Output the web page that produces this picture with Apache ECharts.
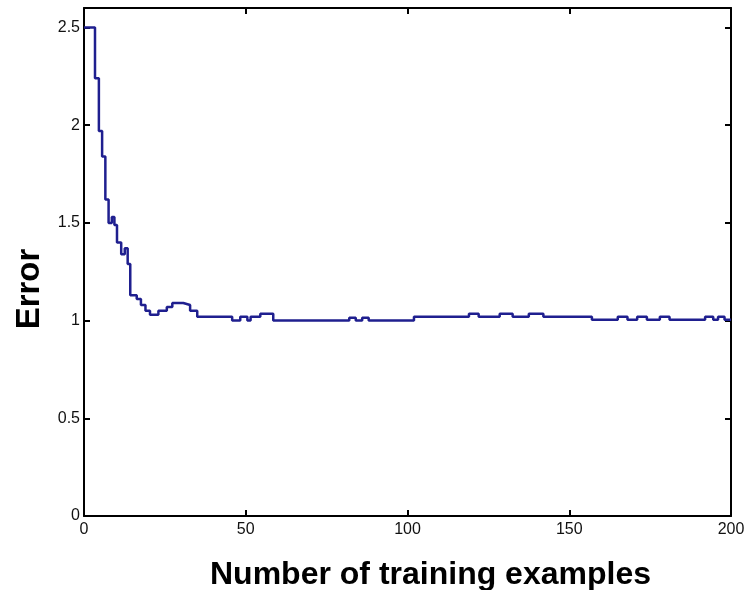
<!DOCTYPE html>
<html>
<head>
<meta charset="utf-8">
<script src="https://cdn.jsdelivr.net/npm/echarts@6/dist/echarts.min.js"></script>
<style>
html,body{margin:0;padding:0;background:#fff;}
#chart{width:753px;height:590px;}
</style>
</head>
<body>
<div id="chart"></div>
<script>
// Step breakpoints (number of training examples) and error level from that point on
const stepX = [0, 3.4, 4.6, 5.6, 6.6, 7.6, 8.6, 9.4, 10.2, 11.5, 12.6, 13.5, 14.3, 16.3, 17.6, 19.0, 20.4, 23.0, 25.6, 27.3, 30.7, 32.8, 35.0, 45.8, 48.3, 50.5, 51.5, 54.5, 58.5, 82.0, 84.0, 86.0, 88.0, 102.0, 119.0, 122.0, 128.5, 132.5, 137.5, 142.0, 157.0, 165.0, 168.0, 171.0, 174.0, 178.0, 181.0, 192.0, 194.5, 196.0, 198.0, 200];
const errorValues = [2.50, 2.24, 1.97, 1.84, 1.62, 1.50, 1.53, 1.49, 1.40, 1.34, 1.37, 1.29, 1.13, 1.11, 1.08, 1.05, 1.03, 1.05, 1.07, 1.09, 1.08, 1.05, 1.02, 1.00, 1.02, 1.00, 1.02, 1.035, 1.00, 1.015, 1.00, 1.015, 1.00, 1.02, 1.035, 1.02, 1.035, 1.02, 1.035, 1.02, 1.005, 1.02, 1.005, 1.02, 1.005, 1.02, 1.005, 1.02, 1.005, 1.02, 1.005, 1.005];
const xTicks = [0, 50, 100, 150, 200];
const yTicks = [0, 0.5, 1, 1.5, 2, 2.5];
const xTitle = 'Number of training examples';
const yTitle = 'Error';

const seriesData = stepX.map((x, i) => [x, errorValues[i]]);

const FONT = 'Liberation Sans, Arial, sans-serif';
const axisLineStyle = { show: true, onZero: false, lineStyle: { color: '#000', width: 2 } };
const tickStyle = { show: true, inside: true, length: 6, lineStyle: { color: '#000', width: 2 } };

const chart = echarts.init(document.getElementById('chart'), null, { renderer: 'canvas' });
chart.setOption({
  animation: false,
  backgroundColor: '#fff',
  grid: { left: 84, right: 22, top: 8, bottom: 74, containLabel: false, outerBoundsMode: 'none' },
  xAxis: [
    {
      type: 'value', min: xTicks[0], max: xTicks[xTicks.length - 1], interval: 50,
      axisLine: axisLineStyle, axisTick: tickStyle, splitLine: { show: false },
      axisLabel: { color: '#111', fontSize: 16, fontFamily: FONT, margin: 6 },
      name: xTitle, nameLocation: 'middle', nameGap: 43,
      nameTextStyle: { color: '#000', fontSize: 32, fontWeight: 'bold', fontFamily: FONT, padding: [0, 0, 0, 46] }
    },
    {
      type: 'value', position: 'top', min: xTicks[0], max: xTicks[xTicks.length - 1], interval: 50,
      axisLine: axisLineStyle, axisTick: tickStyle, splitLine: { show: false },
      axisLabel: { show: false }
    }
  ],
  yAxis: [
    {
      type: 'value', min: yTicks[0], max: 2.6, interval: 0.5,
      axisLine: axisLineStyle, axisTick: tickStyle, splitLine: { show: false },
      axisLabel: { color: '#111', fontSize: 16, fontFamily: FONT, margin: 4, showMaxLabel: false },
      name: yTitle, nameLocation: 'middle', nameGap: 31, nameRotate: 90,
      nameTextStyle: { color: '#000', fontSize: 33, fontWeight: 'bold', fontFamily: FONT, padding: [0, 54, 0, 0] }
    },
    {
      type: 'value', position: 'right', min: yTicks[0], max: 2.6, interval: 0.5,
      axisLine: axisLineStyle, axisTick: tickStyle, splitLine: { show: false },
      axisLabel: { show: false }
    }
  ],
  series: [
    {
      type: 'line', xAxisIndex: 0, yAxisIndex: 0, step: 'end',
      data: seriesData, showSymbol: false, symbol: 'none',
      lineStyle: { color: '#1f1f8f', width: 2.5 },
      z: 3
    }
  ]
});
</script>
</body>
</html>
